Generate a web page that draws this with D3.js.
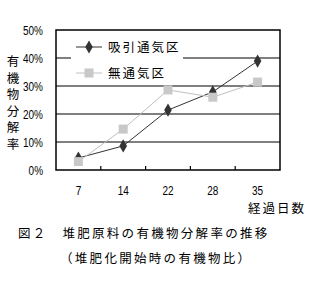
<!DOCTYPE html>
<html>
<head>
<meta charset="utf-8">
<script src="https://cdn.jsdelivr.net/npm/d3@7"></script>
<style>
body { margin: 0; background: #fff; }
svg text { fill: #000; }
.num { font-family: "Liberation Sans", "DejaVu Sans", sans-serif; font-size: 13.5px; }
.jp { font-family: "Noto Sans CJK JP", sans-serif; font-size: 12.5px; }
</style>
</head>
<body>
<svg width="309" height="293"></svg>
<script>
var days = ["7", "14", "22", "28", "35"];
var suction = [4.3, 8.6, 21.4, 27.9, 38.9];   // 吸引通気区
var noAir = [3.0, 14.6, 28.6, 26.0, 31.4];    // 無通気区
var yTicks = [0, 10, 20, 30, 40, 50];

var plotLeft = 56, plotRight = 280, plotTop = 30, plotBottom = 170;
var narrow = 0.74; // squeeze digits like the original condensed font

var svg = d3.select("svg");

var x = d3.scaleBand()
    .domain(days)
    .range([plotLeft, plotRight]);

var y = d3.scaleLinear()
    .domain([0, 50])
    .range([plotBottom, plotTop]);

// gridlines
svg.append("g")
    .selectAll("line")
    .data(yTicks.slice(1, 5))
    .enter().append("line")
    .attr("x1", plotLeft).attr("x2", plotRight)
    .attr("y1", d => y(d)).attr("y2", d => y(d))
    .attr("stroke", "#000")
    .attr("stroke-width", 1.2);

// frame
svg.append("rect")
    .attr("x", plotLeft).attr("y", plotTop)
    .attr("width", plotRight - plotLeft).attr("height", plotBottom - plotTop)
    .attr("fill", "none")
    .attr("stroke", "#000")
    .attr("stroke-width", 1.5);

// x ticks (inside, between categories)
svg.append("g")
    .selectAll("line")
    .data(days.slice(1))
    .enter().append("line")
    .attr("x1", d => x(d)).attr("x2", d => x(d))
    .attr("y1", plotBottom).attr("y2", plotBottom - 4)
    .attr("stroke", "#000")
    .attr("stroke-width", 1.2);

// y labels
svg.append("g")
    .selectAll("text")
    .data(yTicks)
    .enter().append("text")
    .attr("class", "num")
    .attr("transform", d => "translate(" + [43, y(d) + 5] + ") scale(" + narrow + ",1)")
    .attr("text-anchor", "end")
    .text(d => d + "%");

// x labels
svg.append("g")
    .selectAll("text")
    .data(days)
    .enter().append("text")
    .attr("class", "num")
    .attr("transform", d => "translate(" + [x(d) + x.bandwidth() / 2, 195] + ") scale(" + narrow + ",1)")
    .attr("text-anchor", "middle")
    .text(d => d);

// axis titles
svg.append("text")
    .attr("class", "jp")
    .attr("x", 306)
    .attr("y", 213)
    .attr("text-anchor", "end")
    .attr("letter-spacing", 2)
    .text("経過日数");

svg.append("text")
    .attr("class", "jp")
    .attr("x", 13)
    .attr("y", 55)
    .style("writing-mode", "vertical-rl")
    .attr("letter-spacing", 4)
    .text("有機物分解率");

// legend background
svg.append("rect")
    .attr("x", 71).attr("y", 33)
    .attr("width", 112).attr("height", 48)
    .attr("fill", "#fff");

var line = d3.line()
    .x((d, i) => x(days[i]) + x.bandwidth() / 2)
    .y(d => y(d));

var diamond = d3.symbol().type(d3.symbolDiamond).size(50);

function drawSeries(vals, color, lineColor, marker) {
    svg.append("path")
        .datum(vals)
        .attr("d", line)
        .attr("fill", "none")
        .attr("stroke", lineColor)
        .attr("stroke-width", 1);
    var pts = svg.append("g")
        .selectAll("g")
        .data(vals)
        .enter().append("g")
        .attr("transform", (d, i) => "translate(" + [x(days[i]) + x.bandwidth() / 2, y(d)] + ")");
    marker(pts, color);
}

function diamondMark(sel, color) {
    sel.append("path")
        .attr("d", diamond)
        .attr("fill", color);
}

function squareMark(sel, color) {
    sel.append("rect")
        .attr("x", -4.5).attr("y", -4.5)
        .attr("width", 9).attr("height", 9)
        .attr("fill", color);
}

drawSeries(suction, "#333", "#333", diamondMark);
drawSeries(noAir, "#c8c8c8", "#c0c0c0", squareMark);

// legend
var legend = [
    { name: "吸引通気区", color: "#333", line: "#333", marker: diamondMark },
    { name: "無通気区", color: "#c8c8c8", line: "#c0c0c0", marker: squareMark }
];

legend.forEach((d, i) => {
    var ly = 47 + i * 26;
    svg.append("line")
        .attr("x1", 76).attr("x2", 102)
        .attr("y1", ly).attr("y2", ly)
        .attr("stroke", d.line)
        .attr("stroke-width", 1);
    var m = svg.append("g").attr("transform", "translate(" + [89, ly] + ")");
    d.marker(m, d.color);
    svg.append("text")
        .attr("class", "jp")
        .attr("x", 108)
        .attr("y", ly + 4.5)
        .attr("letter-spacing", 2)
        .text(d.name);
});

// caption
svg.append("text")
    .attr("class", "jp")
    .attr("x", 18)
    .attr("y", 238)
    .attr("letter-spacing", 2.3)
    .text("図２　堆肥原料の有機物分解率の推移");

svg.append("text")
    .attr("class", "jp")
    .attr("x", 60)
    .attr("y", 263)
    .attr("letter-spacing", 2.3)
    .text("（堆肥化開始時の有機物比）");
</script>
</body>
</html>
